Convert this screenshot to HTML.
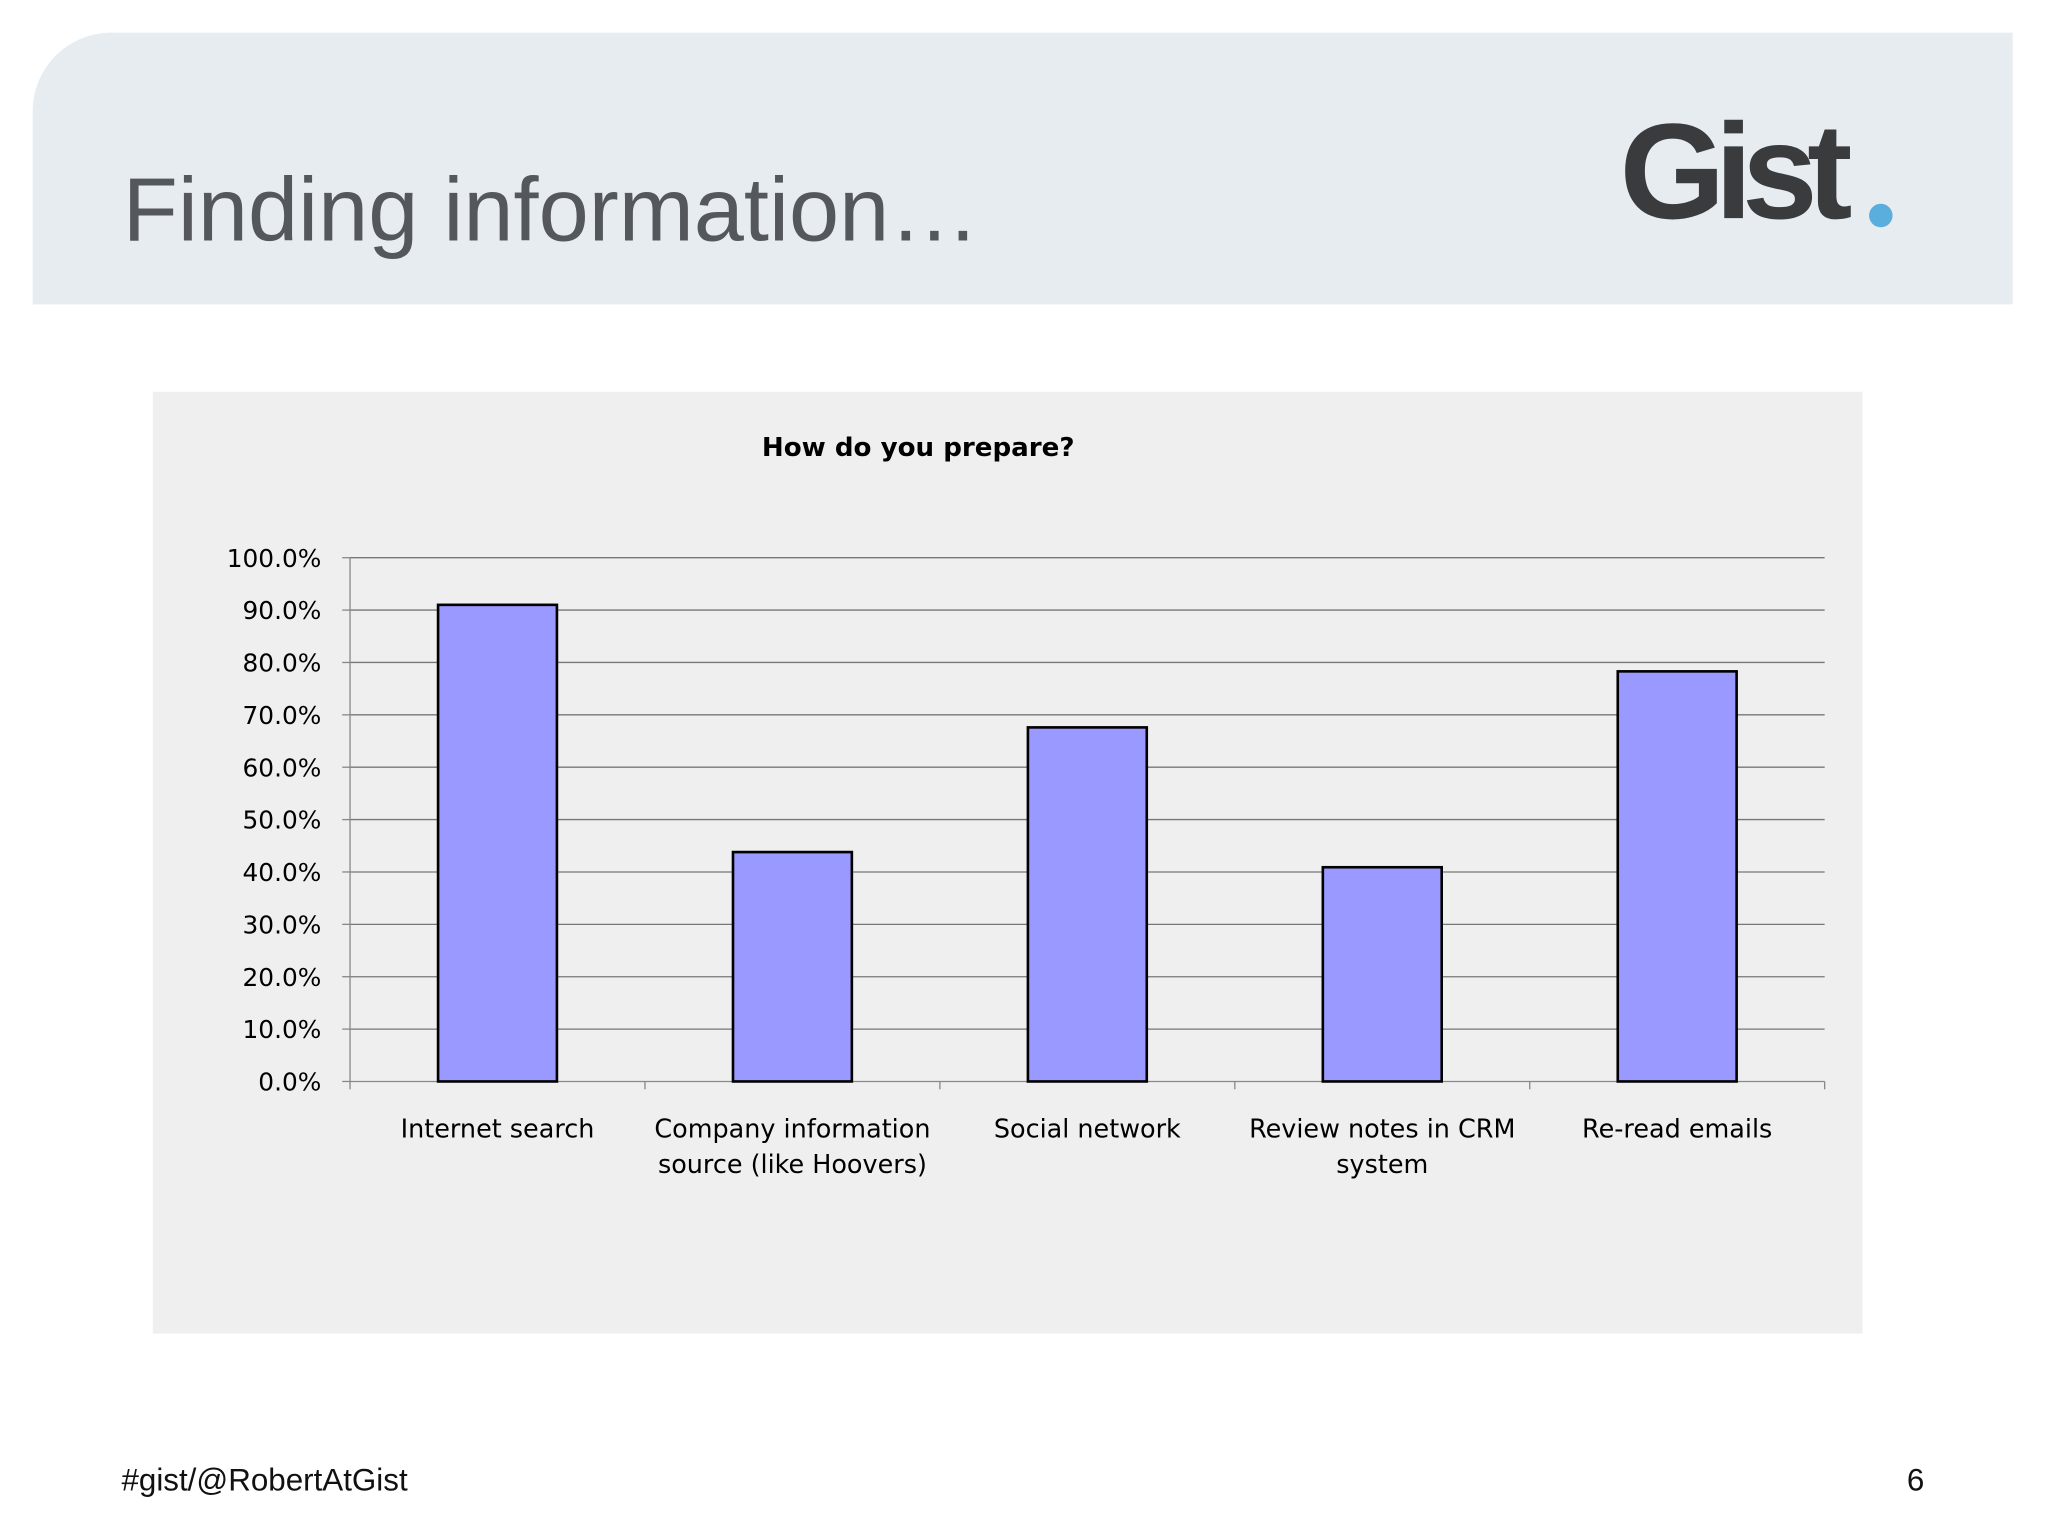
<!DOCTYPE html>
<html><head><meta charset="utf-8"><style>
html,body{margin:0;padding:0;background:#fff;width:2048px;height:1536px;overflow:hidden}
#wrap{position:absolute;left:0;top:0;width:1568px;height:1176px;transform:scale(1.30612);transform-origin:0 0;font-family:"Liberation Sans",sans-serif}
</style></head><body>
<div id="wrap">
<div style="position:absolute;left:25px;top:25px;width:1516px;height:208px;background:#e7ecf1;border-top-left-radius:60px"></div>
<div style="position:absolute;left:94px;top:126px;font-size:69px;color:#54585c;line-height:1">Finding information…</div>
<div style="position:absolute;left:1240px;top:80px;font-size:104px;font-weight:bold;color:#3a3b3d;letter-spacing:-8px;line-height:1">Gist</div>
<div style="position:absolute;left:1431px;top:156px;width:18px;height:18px;border-radius:50%;background:#5aaede"></div>
<svg id="chart" style="position:absolute;left:0;top:0" width="1568" height="1176"></svg>
<div style="position:absolute;left:93px;top:1120px;font-size:24px;color:#111">#gist/@RobertAtGist</div>
<div style="position:absolute;left:1460px;top:1120px;font-size:24px;color:#111">6</div>
</div>
<script>
const categories=[["Internet search"],["Company information","source (like Hoovers)"],["Social network"],["Review notes in CRM","system"],["Re-read emails"]];
const values=[91.0,43.8,67.6,40.9,78.3];
const yTicks=[0,10,20,30,40,50,60,70,80,90,100];
const NS="http://www.w3.org/2000/svg";
const svg=document.getElementById('chart');
const X0=268,X1=1397,Y0=828,Y1=427;
const bw=(X1-X0)/categories.length;
const y=v=>Y0-(v/100)*(Y0-Y1);
const xc=i=>X0+bw*(i+0.5);
function mk(t,a){const e=document.createElementNS(NS,t);for(const k in a)e.setAttribute(k,a[k]);svg.appendChild(e);return e;}
let bg=mk('rect',{x:117,y:300,width:1309,height:721,fill:'#efeff0'});


let tt=mk('text',{x:703,y:349,'text-anchor':'middle','font-size':20,'font-weight':'bold','font-family':'DejaVu Sans, sans-serif',fill:'#000'});
tt.textContent='How do you prepare?';


yTicks.forEach(v=>{
 let g=mk('line',{x1:X0,x2:X1,y1:y(v),y2:y(v),stroke:v===0?'#888':'#777','stroke-width':1});
 
 
 let tk=mk('line',{x1:X0-6,x2:X0,y1:y(v),y2:y(v),stroke:'#888'});
 
 
 let l=mk('text',{x:246,y:y(v)+7,'text-anchor':'end','font-size':19,'font-family':'DejaVu Sans, sans-serif',fill:'#000'});
 l.textContent=v.toFixed(1)+'%';
 
 
});
let ya=mk('line',{x1:X0,x2:X0,y1:Y1,y2:Y0,stroke:'#888'});


for(let i=0;i<=categories.length;i++){
 let t=mk('line',{x1:X0+bw*i,x2:X0+bw*i,y1:Y0,y2:Y0+6,stroke:'#888'});
 
 
}
values.forEach((v,i)=>{
 let r=mk('rect',{x:xc(i)-45.5,y:y(v),width:91,height:Y0-y(v),fill:'#9999ff',stroke:'#000','stroke-width':2});
 
 
 categories[i].forEach((line,j)=>{
  let t=mk('text',{x:xc(i),y:871+j*27,'text-anchor':'middle','font-size':19.5,'font-family':'DejaVu Sans, sans-serif',fill:'#000'});
  t.textContent=line;
  
  
 });
});
</script>
</body></html>
